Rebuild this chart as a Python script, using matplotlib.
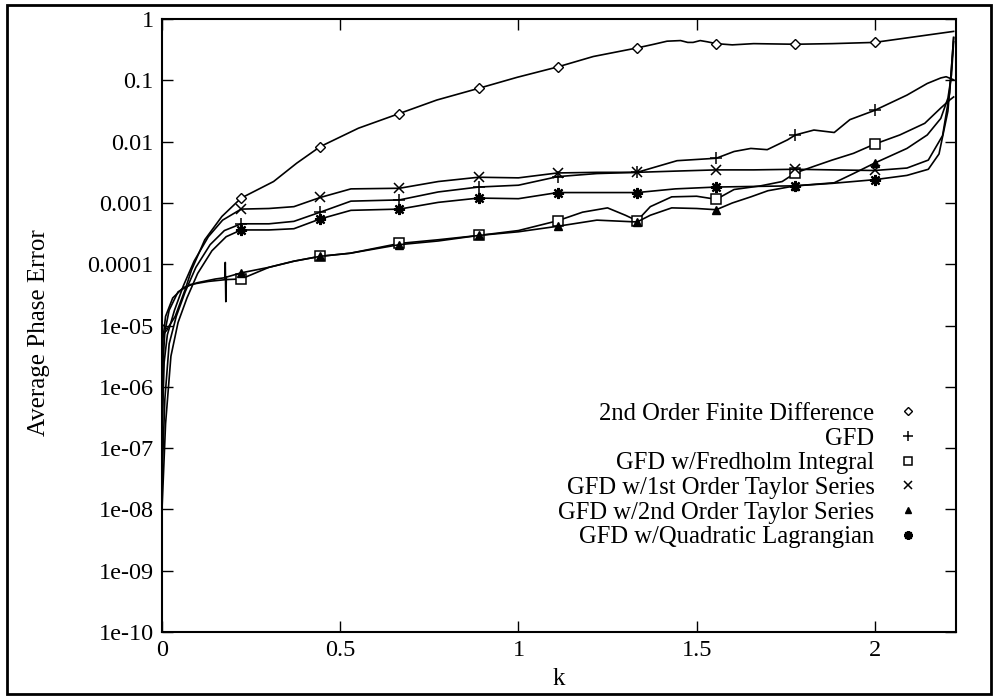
import numpy as np
import matplotlib
matplotlib.use("Agg")
import matplotlib.pyplot as plt
from matplotlib.lines import Line2D
from matplotlib.patches import Rectangle

plt.rcParams['font.family'] = ['Liberation Serif', 'DejaVu Serif']

# marker positions (k)
marker_k = [0.222, 0.444, 0.666, 0.888, 1.11, 1.333, 1.555, 1.777, 1.999]

labels = ["2nd Order Finite Difference", "GFD", "GFD w/Fredholm Integral",
          "GFD w/1st Order Taylor Series", "GFD w/2nd Order Taylor Series",
          "GFD w/Quadratic Lagrangian"]

# values stored as log10(Average Phase Error)
A_k = [0, 0.004, 0.013, 0.037, 0.065, 0.083, 0.12, 0.168, 0.222, 0.313, 0.378, 0.444, 0.551, 0.666,
       0.771, 0.888, 0.996, 1.11, 1.21, 1.333, 1.38, 1.417, 1.455, 1.475, 1.49, 1.51, 1.53, 1.555,
       1.60, 1.66, 1.777, 1.88, 1.999, 2.221]
A_log = [-5.05, -5.15, -5.07, -4.85, -4.41, -4.09, -3.60, -3.22, -2.92, -2.65, -2.35, -2.08, -1.78, -1.54,
         -1.32, -1.13, -0.95, -0.78, -0.61, -0.47, -0.41, -0.36, -0.35, -0.38, -0.38, -0.35, -0.37, -0.40,
         -0.42, -0.40, -0.41, -0.40, -0.38, -0.20]

B_k = [0, 0.008, 0.02, 0.04, 0.065, 0.095, 0.135, 0.175, 0.222, 0.30, 0.37, 0.444, 0.53, 0.666, 0.775,
       0.888, 1.0, 1.11, 1.22, 1.333, 1.445, 1.555, 1.605, 1.652, 1.698, 1.755, 1.777, 1.829, 1.886,
       1.93, 1.999, 2.09, 2.147, 2.185, 2.20, 2.221]
B_log = [-7.5, -6.2, -5.3, -4.85, -4.45, -4.05, -3.68, -3.45, -3.34, -3.34, -3.30, -3.15, -2.97, -2.95, -2.82,
         -2.74, -2.71, -2.57, -2.52, -2.50, -2.31, -2.27, -2.16, -2.11, -2.13, -1.97, -1.89, -1.81, -1.85,
         -1.64, -1.49, -1.24, -1.05, -0.96, -0.94, -0.99]

C_k = [0, 0.003, 0.008, 0.02, 0.045, 0.08, 0.13, 0.18, 0.222, 0.30, 0.37, 0.444, 0.528, 0.666, 0.775,
       0.888, 1.0, 1.11, 1.18, 1.25, 1.30, 1.333, 1.37, 1.43, 1.50, 1.555, 1.605, 1.68, 1.74, 1.777,
       1.83, 1.88, 1.94, 1.999, 2.07, 2.14, 2.185, 2.21, 2.221]
C_log = [-7.0, -5.6, -5.1, -4.75, -4.45, -4.33, -4.28, -4.25, -4.24, -4.05, -3.95, -3.87, -3.82, -3.66, -3.60,
         -3.53, -3.45, -3.29, -3.15, -3.08, -3.20, -3.29, -3.06, -2.90, -2.89, -2.94, -2.78, -2.72, -2.65, -2.51,
         -2.40, -2.30, -2.19, -2.04, -1.89, -1.70, -1.45, -1.32, -1.27]

D_k = [0, 0.006, 0.015, 0.035, 0.06, 0.09, 0.13, 0.17, 0.222, 0.30, 0.37, 0.444, 0.53, 0.666, 0.775,
       0.888, 1.0, 1.11, 1.22, 1.333, 1.44, 1.555, 1.66, 1.777, 1.88, 1.999, 2.09, 2.15, 2.19, 2.21, 2.221]
D_log = [-6.8, -5.6, -5.15, -4.75, -4.35, -3.95, -3.55, -3.28, -3.10, -3.09, -3.06, -2.91, -2.77, -2.76, -2.65,
         -2.58, -2.59, -2.51, -2.50, -2.50, -2.48, -2.46, -2.46, -2.45, -2.46, -2.47, -2.43, -2.30, -1.9, -1.2, -0.3]

E_k = [0, 0.003, 0.01, 0.03, 0.06, 0.1, 0.15, 0.176, 0.1775, 0.179, 0.1805, 0.222, 0.30, 0.37, 0.444,
       0.528, 0.666, 0.775, 0.888, 1.0, 1.11, 1.22, 1.333, 1.37, 1.43, 1.50, 1.555, 1.60, 1.652, 1.70,
       1.777, 1.886, 1.94, 1.999, 2.09, 2.147, 2.185, 2.205, 2.215, 2.221]
E_log = [-6.2, -5.2, -4.85, -4.55, -4.38, -4.30, -4.24, -4.22, -3.97, -4.61, -4.21, -4.14, -4.05, -3.95, -3.87,
         -3.82, -3.68, -3.62, -3.53, -3.47, -3.38, -3.28, -3.31, -3.20, -3.08, -3.09, -3.11, -3.00, -2.90, -2.80,
         -2.72, -2.67, -2.52, -2.35, -2.11, -1.89, -1.62, -1.29, -0.91, -0.37]

F_k = [0, 0.01, 0.025, 0.045, 0.07, 0.1, 0.14, 0.18, 0.222, 0.30, 0.37, 0.444, 0.53, 0.666, 0.775,
       0.888, 1.0, 1.11, 1.22, 1.333, 1.44, 1.555, 1.66, 1.777, 1.88, 1.999, 2.09, 2.15, 2.18, 2.205,
       2.215, 2.221]
F_log = [-8.0, -6.6, -5.5, -4.95, -4.55, -4.15, -3.78, -3.55, -3.44, -3.44, -3.42, -3.26, -3.12, -3.10, -2.99,
         -2.92, -2.93, -2.83, -2.83, -2.83, -2.77, -2.74, -2.73, -2.72, -2.68, -2.62, -2.55, -2.45, -2.2, -1.5,
         -0.8, -0.3]

x_ticks = [0, 0.5, 1, 1.5, 2]
x_ticklabels = ["0", "0.5", "1", "1.5", "2"]
y_ticks = [1e-10, 1e-9, 1e-8, 1e-7, 1e-6, 1e-5, 1e-4, 1e-3, 1e-2, 1e-1, 1]
y_ticklabels = ["1e-10", "1e-09", "1e-08", "1e-07", "1e-06", "1e-05",
                "0.0001", "0.001", "0.01", "0.1", "1"]

series = [
    (A_k, A_log, dict(marker='D', ms=5.5, mfc='white', mew=1.0)),
    (B_k, B_log, dict(marker='+', ms=9, mew=1.1)),
    (C_k, C_log, dict(marker='s', ms=7, mfc='white', mew=1.1)),
    (D_k, D_log, dict(marker='x', ms=7, mew=1.1)),
    (E_k, E_log, dict(marker='^', ms=6, mfc='black', mew=1.0)),
    (F_k, F_log, dict(marker=(8, 2, 0), ms=8, mew=1.6)),
]

fig = plt.figure(figsize=(9.97, 6.98), dpi=100)
ax = fig.add_axes([0.1625, 0.0946, 0.7965, 0.878])

handles = []
for i, (ks, lg, st) in enumerate(series):
    ks = np.asarray(ks, float)
    vals = 10.0 ** np.asarray(lg, float)
    me = [j for j, kv in enumerate(ks) if any(abs(kv - m) < 1e-9 for m in marker_k)]
    if i == 0:
        me = [0] + me
    ax.plot(ks, vals, color='black', lw=1.2, markevery=me, mec='black', **st)
    handles.append(Line2D([], [], ls='none', color='black', mec='black', **st))

ax.set_yscale('log')
ax.set_xlim(0, 2.228)
ax.set_ylim(1e-10, 1)
ax.set_xticks(x_ticks)
ax.set_xticklabels(x_ticklabels)
ax.set_yticks(y_ticks)
ax.set_yticklabels(y_ticklabels)
ax.minorticks_off()
ax.tick_params(direction='in', length=8, width=1.0, top=True, right=True,
               labelsize=17.5, pad=6)
for s in ax.spines.values():
    s.set_linewidth(1.5)

ax.set_xlabel("k", fontsize=18)
ax.xaxis.set_label_coords(0.5, -0.058)
ax.set_ylabel("Average Phase Error", fontsize=18)
ax.yaxis.set_label_coords(-0.141, 0.488)

leg = ax.legend(handles, labels, loc='upper right', bbox_to_anchor=(0.973, 0.394),
                markerfirst=False, frameon=False, fontsize=17.7, handlelength=1.2,
                handletextpad=0.75, labelspacing=0.1, borderpad=0, markerscale=0.8)

fig.patches.append(Rectangle((0.007, 0.006), 0.987, 0.987, transform=fig.transFigure,
                             fill=False, lw=2.0, ec='black'))

fig.savefig("out.png", dpi=100)
